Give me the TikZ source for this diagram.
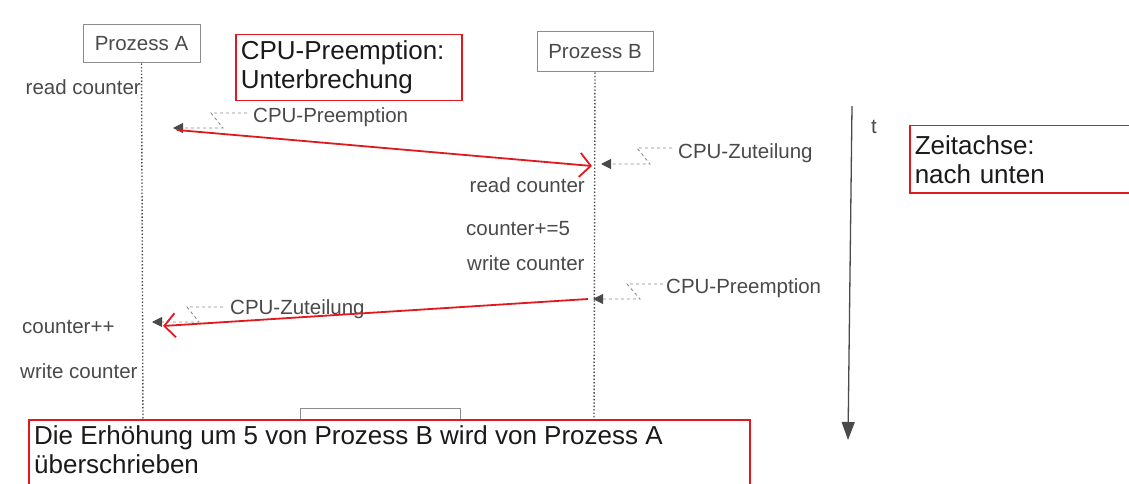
\documentclass[tikz,border=0pt]{standalone}
\usepackage{fontspec}
\setmainfont{Liberation Sans}
\usetikzlibrary{arrows.meta}
\definecolor{txtgray}{HTML}{4A4A4A}
\definecolor{linegray}{HTML}{8C8C8C}
\definecolor{boxred}{HTML}{E0191E}
\definecolor{notetext}{HTML}{1A1A1A}
\begin{document}
\begin{tikzpicture}[x=1pt,y=-1pt,
  lbl/.style={inner sep=0pt, text=txtgray, font=\fontsize{20.5}{24}\selectfont},
  procbox/.style={draw=linegray, line width=1pt, inner sep=0pt, text=txtgray,
    font=\fontsize{20.5}{24}\selectfont},
  lifeline/.style={draw=txtgray, dotted, line width=1.4pt},
  cpuarrow/.style={draw=linegray, dashed, line width=0.9pt,
    -{Triangle[length=10pt,width=10pt,color=txtgray,fill=txtgray]}},
  redarrow/.style={draw=boxred, line width=1.8pt,
    -{Straight Barb[length=11pt,width=24pt,line width=1.8pt]}},
  notebox/.style={draw=boxred, line width=1.5pt, fill=white, align=left,
    inner xsep=5pt, inner ysep=0pt, text=notetext,
    font=\fontsize{26}{29}\selectfont, anchor=north west},
  notetxt/.style={align=left, inner sep=0pt, text=notetext,
    font=\fontsize{26}{29}\selectfont, anchor=north west}
]
\useasboundingbox (0,0) rectangle (1129,484);
\fill[white] (0,0) rectangle (1129,484);

% process boxes and lifelines
\node[procbox, minimum width=117, minimum height=38] (pa) at (141.5,44) {Prozess A};
\node[procbox, minimum width=116, minimum height=40] (pb) at (595,52) {Prozess B};
\coordinate (paend) at (143,422);
\coordinate (pbend) at (594,422);
\draw[lifeline] (pa.south) -- (paend);
\draw[lifeline] (pb.south) -- (pbend);

% partially hidden box at the bottom
\draw[linegray, line width=1pt] (300,408) rectangle (460,445);

% labels on the lifelines
\node[lbl, anchor=east] (a1) at (141,87) {read counter};
\node[lbl, anchor=east] (b1) at (585,185) {read counter};
\node[lbl, anchor=west] (b2) at (466,229) {counter+=5};
\node[lbl, anchor=west] (b3) at (467,263) {write counter};
\node[lbl, anchor=west] (a2) at (22,327) {counter++};
\node[lbl, anchor=west] (a3) at (20,371) {write counter};

% CPU events
\node[lbl, anchor=west] (c1) at (253,117) {CPU-Preemption};
\node[lbl, anchor=west] (c2) at (678,153) {CPU-Zuteilung};
\node[lbl, anchor=west] (c3) at (666,288) {CPU-Preemption};
\node[lbl, anchor=west] (c4) at (230,309) {CPU-Zuteilung};
\coordinate (t1) at (173,128);
\coordinate (t2) at (601,164);
\coordinate (t3) at (593,299);
\coordinate (t4) at (152,322);
\draw[cpuarrow] ([xshift=-6pt,yshift=4pt]c1.west) -- ++(-36,0) -- ++(12,15) -- (t1);
\draw[cpuarrow] ([xshift=-6pt,yshift=5pt]c2.west) -- ++(-35,0) -- ++(13,16) -- (t2);
\draw[cpuarrow] ([xshift=-3pt,yshift=4pt]c3.west) -- ++(-36,0) -- ++(13,15) -- (t3);
\draw[cpuarrow] ([xshift=-7pt,yshift=2pt]c4.west) -- ++(-36,0) -- ++(12,15) -- (t4);

% red arrows
\coordinate (r1s) at (177,130);
\coordinate (r1e) at (592,166);
\coordinate (r2s) at (588,299);
\coordinate (r2e) at (163,326);
\draw[redarrow] (r1s) -- (r1e);
\draw[redarrow] (r2s) -- (r2e);

% time axis
\coordinate (ta) at (852,106);
\coordinate (tb) at (848,440);
\draw[draw=txtgray, line width=1.3pt,
  -{Triangle[length=18pt,width=13pt,color=txtgray,fill=txtgray]}] (ta) -- (tb);
\node[lbl] (tl) at (874,127) {t};

% red notes
\node[notebox, minimum width=226, minimum height=66, text width=216] (n1)
  at (235,34) {CPU-Preemption:\\Unterbrechung};
\node[notebox, minimum width=224, minimum height=67, text width=214] (n2)
  at (909,125) {Zeitachse:\\nach unten};
\draw[draw=boxred, line width=1.5pt, fill=white] (29,420) rectangle (750,495);
\node[notetxt] (n3) at (34,425) {Die Erhöhung um 5 von Prozess B wird von Prozess A\\überschrieben};
\end{tikzpicture}
\end{document}
